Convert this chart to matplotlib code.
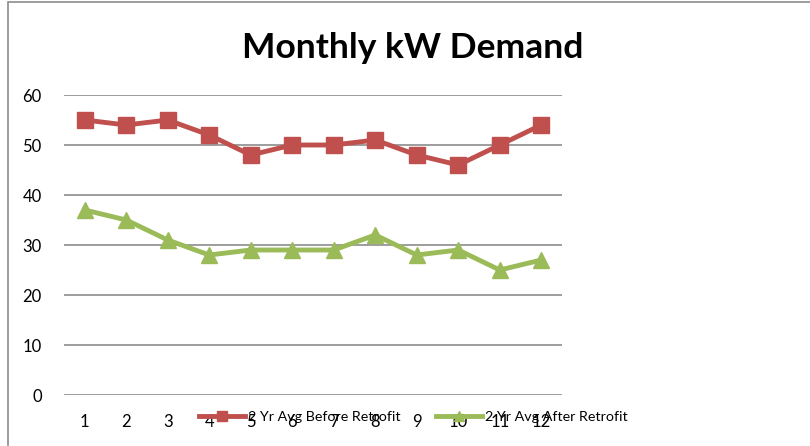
import matplotlib.pyplot as plt
from matplotlib.patches import Rectangle

months = [1, 2, 3, 4, 5, 6, 7, 8, 9, 10, 11, 12]
before = [55, 54, 55, 52, 48, 50, 50, 51, 48, 46, 50, 54]
after = [37, 35, 31, 28, 29, 29, 29, 32, 28, 29, 25, 27]
yticks = [0, 10, 20, 30, 40, 50, 60]

plt.rcParams['font.family'] = ['Lato', 'DejaVu Sans']

fig = plt.figure(figsize=(8.1, 4.46), dpi=100)
fig.patch.set_facecolor('white')

# outer chart border (runs off the right and bottom edge)
fig.patches.append(Rectangle((8 / 810, -0.1), 1.2, 1.1 - 2 / 446, transform=fig.transFigure,
                             fill=False, edgecolor='#8c8c8c', linewidth=1.2))

ax = fig.add_axes([64 / 810, 1 - 395 / 446, 498 / 810, 300 / 446])
ax.plot(months, before, color='#c0504d', linewidth=3.5, marker='s', markersize=11,
        label='2 Yr Avg Before Retrofit')
ax.plot(months, after, color='#9bbb59', linewidth=3.5, marker='^', markersize=12,
        label='2 Yr Avg After Retrofit')

ax.set_xlim(0.5, 12.5)
ax.set_ylim(0, 60)
ax.set_yticks(yticks)
ax.set_xticks(months)
ax.tick_params(length=0, labelsize=12, pad=16)
ax.tick_params(axis='x', pad=14)
ax.yaxis.grid(True, color='#8c8c8c', linewidth=1.2)
ax.set_axisbelow(True)
for s in ax.spines.values():
    s.set_visible(False)
ax.patch.set_alpha(0)

fig.text(413 / 810, 1 - 48 / 446, 'Monthly kW Demand', ha='center', va='center',
         fontsize=25.5, fontweight='bold')

fig.legend(loc='center left', bbox_to_anchor=(199 / 810, 1 - 417 / 446), ncol=2,
           frameon=False, fontsize=10.3, handlelength=3.2, columnspacing=2.5,
           handletextpad=0.2, borderpad=0, borderaxespad=0, markerscale=0.65)

fig.savefig('out.png', dpi=100)
